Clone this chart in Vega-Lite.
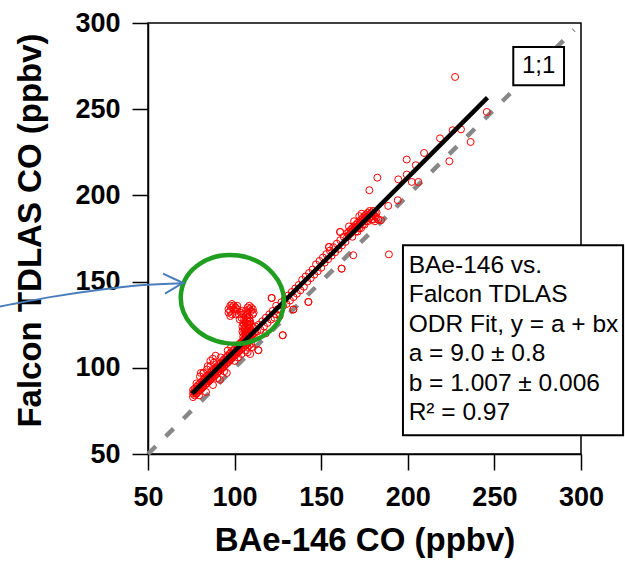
{
  "$schema": "https://vega.github.io/schema/vega-lite/v6.json",
  "width": 433,
  "height": 431,
  "autosize": {"type": "none"},
  "padding": {"left": 148, "top": 23, "right": 44, "bottom": 107},
  "background": "white",
  "config": {
    "view": {"stroke": "black", "strokeWidth": 1.5},
    "axis": {
      "domainColor": "black", "domainWidth": 1.5, "tickColor": "black", "tickWidth": 1.5, "tickSize": 16,
      "labelFont": "Liberation Sans", "labelFontSize": 27, "labelFontWeight": "bold", "labelColor": "black",
      "titleFont": "Liberation Sans", "titleFontSize": 33, "titleFontWeight": "bold", "titleColor": "black",
      "grid": false, "labelPadding": 11, "labelFlush": false, "labelOverlap": false
    }
  },
  "encoding": {
    "x": {"field": "x", "type": "quantitative", "scale": {"domain": [50, 300], "nice": false, "zero": false},
      "axis": {"values": [50, 100, 150, 200, 250, 300], "title": "BAe-146 CO (ppbv)", "titlePadding": 14, "labelPadding": 14}},
    "y": {"field": "y", "type": "quantitative", "scale": {"domain": [50, 300], "nice": false, "zero": false},
      "axis": {"values": [50, 100, 150, 200, 250, 300], "title": "Falcon TDLAS CO (ppbv)", "titlePadding": 27, "labelPadding": 12, "titleY": 207}}
  },
  "layer": [
    {
      "data": {"values": [{"x": 50, "y": 50}, {"x": 296, "y": 296}]},
      "mark": {"type": "line", "color": "#888888", "strokeWidth": 4.5, "strokeDash": [11, 14]}
    },
    {
      "data": {"values": [
        {"x":76,"y":85},{"x":76,"y":87},{"x":76,"y":83},{"x":77,"y":86},{"x":77,"y":88},{"x":77,"y":84},
        {"x":78,"y":87},{"x":78,"y":89},{"x":78,"y":85},{"x":78,"y":91},{"x":79,"y":88},{"x":79,"y":86},{"x":79,"y":90},
        {"x":80,"y":89},{"x":80,"y":91},{"x":80,"y":87},{"x":80,"y":95},{"x":81,"y":90},{"x":81,"y":88},{"x":81,"y":92},
        {"x":82,"y":91},{"x":82,"y":89},{"x":82,"y":93},{"x":82,"y":97},{"x":83,"y":92},{"x":83,"y":90},{"x":83,"y":94},
        {"x":84,"y":93},{"x":84,"y":91},{"x":84,"y":95},{"x":84,"y":99},{"x":85,"y":94},{"x":85,"y":92},{"x":85,"y":96},
        {"x":86,"y":95},{"x":86,"y":93},{"x":86,"y":97},{"x":86,"y":101},{"x":87,"y":96},{"x":87,"y":94},{"x":87,"y":98},
        {"x":88,"y":97},{"x":88,"y":95},{"x":88,"y":99},{"x":88,"y":103},{"x":89,"y":98},{"x":89,"y":96},{"x":89,"y":100},
        {"x":90,"y":99},{"x":90,"y":97},{"x":90,"y":101},{"x":90,"y":94},{"x":91,"y":100},{"x":91,"y":98},{"x":91,"y":102},
        {"x":92,"y":101},{"x":92,"y":99},{"x":92,"y":103},{"x":92,"y":106},{"x":93,"y":102},{"x":93,"y":100},{"x":93,"y":104},
        {"x":94,"y":103},{"x":94,"y":101},{"x":94,"y":105},{"x":94,"y":98},{"x":95,"y":104},{"x":95,"y":102},{"x":95,"y":106},
        {"x":96,"y":105},{"x":96,"y":103},{"x":96,"y":107},{"x":96,"y":110},{"x":97,"y":106},{"x":97,"y":104},{"x":97,"y":108},
        {"x":98,"y":107},{"x":98,"y":105},{"x":98,"y":109},{"x":98,"y":112},{"x":99,"y":108},{"x":99,"y":106},{"x":99,"y":110},
        {"x":100,"y":109},{"x":100,"y":107},{"x":100,"y":111},{"x":100,"y":104},{"x":101,"y":110},{"x":101,"y":108},{"x":101,"y":112},
        {"x":102,"y":111},{"x":102,"y":109},{"x":102,"y":113},{"x":102,"y":106},{"x":103,"y":112},{"x":103,"y":110},{"x":103,"y":114},
        {"x":104,"y":113},{"x":104,"y":111},{"x":104,"y":115},{"x":104,"y":108},{"x":105,"y":114},{"x":105,"y":112},{"x":105,"y":116},
        {"x":106,"y":115},{"x":106,"y":113},{"x":106,"y":117},{"x":107,"y":116},{"x":107,"y":114},{"x":107,"y":118},
        {"x":108,"y":117},{"x":108,"y":115},{"x":108,"y":119},{"x":109,"y":118},{"x":109,"y":116},{"x":109,"y":120},
        {"x":110,"y":119},{"x":110,"y":121},{"x":110,"y":117},{"x":111,"y":120},{"x":111,"y":118},{"x":111,"y":123},
        {"x":112,"y":121},{"x":112,"y":124},
        {"x":76.5,"y":86},{"x":77.5,"y":85},{"x":78.5,"y":88},{"x":79.5,"y":87},{"x":81.5,"y":89},{"x":82.5,"y":92},
        {"x":83.5,"y":91},{"x":85.5,"y":93},{"x":86.5,"y":96},{"x":88.5,"y":96},{"x":89.5,"y":99},{"x":90.5,"y":98},
        {"x":92.5,"y":100},{"x":93.5,"y":103},{"x":95.5,"y":103},{"x":97.5,"y":105},{"x":99.5,"y":107},{"x":101.5,"y":109},
        {"x":79.5,"y":84},{"x":83.5,"y":86},{"x":87.5,"y":90},{"x":91.5,"y":93},{"x":95.5,"y":97},
        {"x":80.5,"y":97},{"x":84.5,"y":101},{"x":86,"y":104},{"x":89,"y":107},{"x":87.4,"y":105.3},{"x":81.9,"y":97},
        {"x":105,"y":118},{"x":106,"y":120},{"x":106,"y":122},{"x":106.5,"y":124},{"x":106.5,"y":126},{"x":105.5,"y":128},
        {"x":107.5,"y":121},{"x":107.5,"y":125},{"x":108.5,"y":123},{"x":108.5,"y":127},{"x":106.5,"y":130},{"x":107.5,"y":129},
        {"x":107.5,"y":131},{"x":105.5,"y":116},{"x":106.5,"y":119},{"x":104.5,"y":121},{"x":108.5,"y":119},{"x":109.5,"y":122},
        {"x":109.5,"y":125},{"x":106.5,"y":117},{"x":107.5,"y":118},{"x":105.5,"y":125},{"x":104.5,"y":124},{"x":108.5,"y":129},
        {"x":107.5,"y":127},{"x":106.5,"y":121},{"x":105.5,"y":123},{"x":107.5,"y":123},{"x":106.5,"y":128},
        {"x":105,"y":120},{"x":105,"y":126},{"x":108,"y":121},{"x":108,"y":125},{"x":109,"y":127},{"x":107,"y":120},
        {"x":103.5,"y":114},{"x":104.5,"y":115},{"x":105.5,"y":114},{"x":107.5,"y":112},{"x":108.5,"y":113},{"x":109.5,"y":114},
        {"x":106.5,"y":110},{"x":107.5,"y":109},{"x":110,"y":112},{"x":109,"y":108},
        {"x":96.5,"y":134},{"x":97.5,"y":136},{"x":97.5,"y":133},{"x":98.5,"y":135},{"x":98.5,"y":137},{"x":99.5,"y":134},
        {"x":99.5,"y":136},{"x":100.5,"y":133},{"x":100.5,"y":135},{"x":101.5,"y":134},{"x":96.5,"y":132},{"x":98.5,"y":131},
        {"x":100.5,"y":131},{"x":101.5,"y":136},{"x":97.5,"y":130},
        {"x":106.5,"y":133},{"x":107.5,"y":135},{"x":108.5,"y":134},{"x":108.5,"y":136},{"x":109.5,"y":133},{"x":109.5,"y":135},
        {"x":110.5,"y":134},{"x":110.5,"y":131},{"x":107.5,"y":132},{"x":111,"y":132},
        {"x":102.5,"y":131},{"x":103.5,"y":132},{"x":104.5,"y":133},{"x":104,"y":129},{"x":103,"y":128},{"x":105,"y":131},
        {"x":113,"y":121},{"x":113.7,"y":110.2},{"x":114,"y":125},{"x":115,"y":122},{"x":116,"y":127},{"x":117,"y":124},
        {"x":118,"y":129},{"x":118,"y":120},{"x":119,"y":126},{"x":120,"y":131},{"x":121,"y":128},{"x":121.4,"y":140.5},
        {"x":122,"y":133},{"x":123,"y":129},{"x":124,"y":131},{"x":124,"y":136},{"x":125,"y":134},{"x":126,"y":130},
        {"x":127,"y":138},{"x":127.8,"y":118.9},{"x":128,"y":136},{"x":129,"y":140},{"x":130,"y":137},{"x":131,"y":142},
        {"x":132,"y":139},{"x":133,"y":144},{"x":133.9,"y":133.8},{"x":134,"y":141},{"x":135,"y":146},{"x":136,"y":143},
        {"x":137,"y":148},{"x":138,"y":145},{"x":139,"y":151},{"x":140,"y":147},{"x":141,"y":153},{"x":142,"y":150},
        {"x":142.6,"y":138.2},{"x":143,"y":155},{"x":144,"y":152},{"x":145,"y":157},{"x":146,"y":154},{"x":147,"y":160},
        {"x":148,"y":156},{"x":149,"y":162},{"x":150,"y":158},{"x":151,"y":164},{"x":152,"y":161},{"x":153,"y":166},
        {"x":154,"y":163},{"x":154.5,"y":170.1},{"x":155,"y":168},{"x":156,"y":165},{"x":157,"y":170},{"x":158,"y":167},
        {"x":159,"y":172},{"x":160,"y":169},{"x":160.9,"y":178.8},{"x":161,"y":174},{"x":161.8,"y":157.5},{"x":162,"y":171},
        {"x":163,"y":176},{"x":164,"y":173},{"x":165,"y":178},
        {"x":165,"y":176},{"x":166,"y":177},{"x":166,"y":179},{"x":167,"y":178},{"x":167,"y":180},{"x":168,"y":179},
        {"x":168,"y":181},{"x":169,"y":180},{"x":169,"y":182},{"x":170,"y":181},{"x":170,"y":183},{"x":170,"y":179},
        {"x":171,"y":182},{"x":171,"y":184},{"x":172,"y":183},{"x":172,"y":185},{"x":172,"y":181},{"x":173,"y":184},
        {"x":173,"y":186},{"x":174,"y":185},{"x":174,"y":187},{"x":174,"y":183},{"x":175,"y":186},{"x":175,"y":188},
        {"x":176,"y":187},{"x":176,"y":189},{"x":176,"y":185},{"x":177,"y":188},{"x":177,"y":190},{"x":178,"y":189},
        {"x":178,"y":191},{"x":178,"y":187},{"x":179,"y":190},{"x":179,"y":188},{"x":180,"y":191},{"x":180,"y":189},
        {"x":181,"y":190},{"x":181,"y":188},{"x":168,"y":176},{"x":171,"y":179},{"x":173,"y":181},{"x":175,"y":183},
        {"x":177,"y":185},{"x":179,"y":186},{"x":182,"y":190},{"x":166,"y":182},{"x":169,"y":185},{"x":172,"y":188},
        {"x":180,"y":186},{"x":182,"y":187},{"x":183,"y":186},{"x":181,"y":185},
        {"x":227.3,"y":268.7},{"x":245.6,"y":248.4},{"x":230.7,"y":238.3},{"x":225.9,"y":237.8},{"x":236.3,"y":231.0},
        {"x":218.6,"y":233.1},{"x":224.0,"y":219.8},{"x":209.4,"y":224.6},{"x":199.4,"y":220.8},{"x":204.6,"y":217.5},
        {"x":199.4,"y":212.1},{"x":206.1,"y":207.8},{"x":202.3,"y":207.8},{"x":182.4,"y":210.3},{"x":177.8,"y":203.0},
        {"x":194.5,"y":209.3},{"x":194.2,"y":197.2},{"x":188.7,"y":193.9},{"x":189.1,"y":165.8},{"x":184.5,"y":185.6},
        {"x":173.4,"y":189.4},{"x":168.5,"y":165.3},{"x":161.8,"y":157.5},{"x":160.9,"y":178.8},{"x":154.5,"y":170.1},
        {"x":142.6,"y":138.2},{"x":133.9,"y":133.8},{"x":127.8,"y":118.9},{"x":121.4,"y":140.5},{"x":113.7,"y":110.2}
      ]},
      "mark": {"type": "point", "shape": "circle", "size": 49, "filled": false, "stroke": "#ff0000", "strokeWidth": 1, "opacity": 1}
    },
    {
      "data": {"values": [{"x": 75.5, "y": 85}, {"x": 246, "y": 256.7}]},
      "mark": {"type": "line", "color": "black", "strokeWidth": 4.5}
    },
    {
      "data": {"values": [{"x": 98.7, "y": 139.7}]},
      "mark": {"type": "point", "shape": "M 1 0 C 1 0.4722 0.5523 0.855 0 0.855 C -0.5523 0.855 -1 0.4722 -1 0 C -1 -0.4722 -0.5523 -0.855 0 -0.855 C 0.5523 -0.855 1 -0.4722 1 0 Z",
        "size": 10692, "filled": false, "stroke": "#1f9e1f", "strokeWidth": 4.5, "opacity": 1, "angle": 8}
    },
    {
      "data": {"values": [
        {"x": -35.45, "y": 135.5}, {"x": -6.58, "y": 141.0}, {"x": 22.29, "y": 145.3}, {"x": 45.38, "y": 147.85}, {"x": 70.21, "y": 149.0}
      ]},
      "mark": {"type": "line", "color": "#4a7ebb", "strokeWidth": 2, "interpolate": "monotone"}
    },
    {
      "data": {"values": [
        {"x": 58.7, "y": 154.6, "o": 1}, {"x": 70.2, "y": 149.2, "o": 2}, {"x": 59.8, "y": 143.0, "o": 3}
      ]},
      "mark": {"type": "line", "color": "#4a7ebb", "strokeWidth": 2},
      "encoding": {"order": {"field": "o", "type": "quantitative"}}
    },
    {
      "data": {"values": [{"x": 260.9, "x2": 290.2, "y": 286.1, "y2": 263.9}]},
      "mark": {"type": "rect", "fill": "white", "stroke": "black", "strokeWidth": 2},
      "encoding": {"x2": {"field": "x2"}, "y2": {"field": "y2"}}
    },
    {
      "data": {"values": [{"x": 275.5, "y": 275, "t": "1;1"}]},
      "mark": {"type": "text", "font": "Liberation Sans", "fontSize": 24, "color": "black", "align": "center", "baseline": "middle"},
      "encoding": {"text": {"field": "t"}}
    },
    {
      "data": {"values": [{"x": 197.2, "x2": 324.3, "y": 171.05, "y2": 60.85}]},
      "mark": {"type": "rect", "fill": "white", "stroke": "black", "strokeWidth": 2},
      "encoding": {"x2": {"field": "x2"}, "y2": {"field": "y2"}}
    },
    {
      "data": {"values": [
        {"x": 200.5, "y": 159.2, "t": "BAe-146 vs."},
        {"x": 200.5, "y": 142.05, "t": "Falcon TDLAS"},
        {"x": 200.5, "y": 124.9, "t": "ODR Fit, y = a + bx"},
        {"x": 200.5, "y": 107.8, "t": "a = 9.0 ± 0.8"},
        {"x": 200.5, "y": 90.7, "t": "b = 1.007 ± 0.006"},
        {"x": 200.5, "y": 73.6, "t": "R² = 0.97"}
      ]},
      "mark": {"type": "text", "font": "Liberation Sans", "fontSize": 24.5, "color": "black", "align": "left", "baseline": "middle"},
      "encoding": {"text": {"field": "t"}}
    }
  ]
}
